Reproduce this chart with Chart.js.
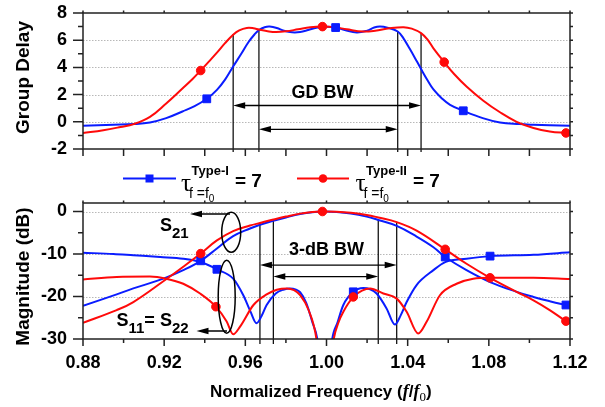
<!DOCTYPE html>
<html>
<head>
<meta charset="utf-8">
<script src="https://cdn.jsdelivr.net/npm/chart.js@4.4.1/dist/chart.umd.min.js"></script>
<style>
  html, body { margin: 0; padding: 0; background: #fff; }
  #wrap { position: relative; width: 605px; height: 407px; }
  #wrap canvas { position: absolute; left: 0; top: 0; }
</style>
</head>
<body>
<div id="wrap">
  <canvas id="gdChart" width="605" height="407"></canvas>
  <canvas id="magChart" width="605" height="407"></canvas>
</div>
<script>
// axis ticks
const freqTicks = [0.88, 0.92, 0.96, 1.00, 1.04, 1.08, 1.12];
const gdTicks = [-2, 0, 2, 4, 6, 8];
const magTicks = [-30, -20, -10, 0];

// group delay, Type-I (blue)
const gdFreqI = [0.880, 0.895, 0.905, 0.913, 0.921, 0.929, 0.935, 0.941, 0.946, 0.950, 0.954, 0.958, 0.9615, 0.9645, 0.9667, 0.9695, 0.972, 0.9755, 0.979, 0.983, 0.987, 0.991, 0.995, 1.000, 1.0045, 1.009, 1.0149, 1.020, 1.0235, 1.0264, 1.030, 1.0351, 1.038, 1.0411, 1.0445, 1.0466, 1.050, 1.0527, 1.057, 1.0609, 1.0674, 1.077, 1.0855, 1.095, 1.102, 1.110, 1.120];
const gdTypeI = [-0.29, -0.22, -0.17, -0.05, 0.27, 0.76, 1.15, 1.69, 2.35, 3.1, 4.07, 5.0, 5.85, 6.42, 6.74, 6.95, 7.0, 6.9, 6.7, 6.58, 6.6, 6.75, 6.92, 6.98, 6.93, 6.75, 6.57, 6.7, 6.93, 7.0, 6.92, 6.64, 6.12, 5.35, 4.45, 3.88, 3.0, 2.38, 1.7, 1.25, 0.81, 0.27, -0.05, -0.17, -0.22, -0.26, -0.29];
// group delay, Type-II (red)
const gdFreqII = [0.880, 0.890, 0.8985, 0.905, 0.913, 0.921, 0.929, 0.934, 0.938, 0.942, 0.946, 0.950, 0.954, 0.957, 0.9607, 0.964, 0.9667, 0.971, 0.975, 0.980, 0.986, 0.992, 0.998, 1.004, 1.010, 1.018, 1.024, 1.031, 1.038, 1.042, 1.0466, 1.050, 1.0527, 1.058, 1.063, 1.069, 1.0773, 1.0855, 1.0937, 1.102, 1.110, 1.118, 1.120];
const gdTypeII = [-0.83, -0.62, -0.38, -0.17, 0.36, 1.35, 2.45, 3.15, 3.77, 4.42, 5.08, 5.78, 6.4, 6.72, 6.9, 6.88, 6.78, 6.66, 6.6, 6.65, 6.8, 6.95, 7.0, 6.95, 6.8, 6.64, 6.7, 6.88, 6.96, 6.85, 6.52, 6.0, 5.4, 4.39, 3.5, 2.6, 1.55, 0.7, 0.0, -0.45, -0.71, -0.82, -0.83];
// marker points on the group delay curves
const gdMarkFreqI = [0.941, 1.0045, 1.0674];
const gdMarkI = [1.69, 6.93, 0.81];
const gdMarkFreqII = [0.938, 0.998, 1.058, 1.118];
const gdMarkII = [3.77, 7.0, 4.39, -0.82];
// GD bandwidth edges [freq, delay at edge]
const gdBwEdges = [[0.954, 6.45], [0.9667, 6.76], [1.0351, 6.64], [1.0466, 6.52]];

// S21, Type-I (blue)
const s21FreqI = [0.880, 0.8966, 0.9048, 0.9196, 0.9294, 0.938, 0.946, 0.954, 0.9623, 0.9672, 0.9738, 0.980, 0.987, 0.993, 0.998, 1.005, 1.012, 1.0198, 1.0255, 1.0346, 1.0444, 1.0527, 1.0585, 1.069, 1.0806, 1.0937, 1.102, 1.110, 1.118, 1.120];
const s21TypeI = [-22.2, -19.5, -18.1, -15.8, -13.8, -11.6, -8.7, -5.8, -4.0, -3.1, -2.2, -1.4, -0.6, -0.15, 0, -0.1, -0.45, -1.2, -2.0, -3.4, -5.9, -8.4, -10.7, -13.8, -16.6, -18.9, -20.1, -21.1, -22.0, -22.2];
// S21, Type-II (red)
const s21FreqII = [0.880, 0.8966, 0.9048, 0.9196, 0.9294, 0.938, 0.946, 0.954, 0.9623, 0.9672, 0.9738, 0.980, 0.987, 0.993, 0.998, 1.005, 1.012, 1.0198, 1.0255, 1.0346, 1.0444, 1.0585, 1.069, 1.0806, 1.0937, 1.102, 1.110, 1.118, 1.120];
const s21TypeII = [-26.2, -23.2, -21.3, -16.4, -13.0, -9.9, -6.8, -4.6, -3.3, -2.7, -1.9, -1.2, -0.5, -0.1, 0, -0.05, -0.3, -0.8, -1.4, -2.5, -4.5, -8.9, -12.3, -15.6, -18.9, -20.9, -23.2, -25.8, -26.2];
// S11 = S22, Type-I (blue)
const s11FreqI = [0.880, 0.895, 0.9048, 0.918, 0.9294, 0.938, 0.946, 0.954, 0.959, 0.9625, 0.9655, 0.968, 0.9705, 0.975, 0.9787, 0.982, 0.985, 0.987, 0.990, 0.993, 0.9958, 0.9992, 1.0025, 1.0055, 1.0083, 1.0132, 1.0181, 1.0215, 1.0247, 1.0296, 1.0337, 1.0365, 1.0395, 1.0444, 1.0527, 1.0585, 1.069, 1.0806, 1.102, 1.120];
const s11TypeI = [-9.7, -10.0, -10.3, -10.7, -11.1, -11.9, -13.6, -15.8, -19.7, -23.5, -26.3, -24.6, -22.0, -19.3, -18.4, -18.1, -18.4, -19.0, -21.5, -26.0, -31.0, -50, -31.0, -26.0, -22.0, -18.9, -18.0, -18.3, -19.3, -22.8, -26.6, -24.5, -21.3, -17.3, -13.8, -11.9, -11.1, -10.5, -10.2, -9.6];
// S11 = S22, Type-II (red)
const s11FreqII = [0.880, 0.8966, 0.913, 0.921, 0.9294, 0.9377, 0.9455, 0.9508, 0.954, 0.9574, 0.964, 0.9705, 0.9755, 0.9804, 0.984, 0.987, 0.991, 0.9952, 0.999, 1.0034, 1.006, 1.0083, 1.0132, 1.0175, 1.0215, 1.028, 1.0346, 1.0395, 1.0452, 1.0494, 1.0559, 1.0641, 1.0723, 1.0806, 1.102, 1.120];
const s11TypeII = [-16.0, -15.4, -15.3, -15.8, -17.0, -19.3, -22.4, -25.9, -28.9, -27.1, -22.0, -19.5, -18.4, -18.1, -18.5, -19.7, -23.0, -30.5, -50, -30.5, -26.0, -23.6, -20.1, -18.6, -18.1, -19.3, -20.5, -23.6, -28.7, -25.9, -19.7, -17.0, -15.8, -15.6, -15.6, -15.9];
// marker points on the magnitude curves
const magMarkFreqI = [0.938, 0.946, 1.0132, 1.0585, 1.0806, 1.118];
const magMarkI = [-11.6, -13.6, -18.9, -10.7, -10.5, -22.0];
const magMarkFreqII = [0.938, 0.9455, 0.998, 1.0132, 1.0585, 1.0806, 1.118];
const magMarkII = [-9.9, -22.4, 0, -20.1, -8.9, -15.6, -25.8];
// 3-dB bandwidth edges [freq, magnitude at edge]
const magBwEdges = [[0.9672, -2.7], [0.9738, -2.2], [1.0255, -2.0], [1.0346, -2.5]];

const BLUE = '#0a1cff';
const RED = '#ff0a0a';
const SANS = '"Liberation Sans", Arial, sans-serif';
const SERIF = '"Liberation Serif", "Times New Roman", serif';

Chart.defaults.font.family = SANS;
Chart.defaults.color = '#000';

const pts = (xs, ys) => xs.map((x, i) => ({ x: x, y: ys[i] }));
const mids = arr => arr.slice(1).map((v, i) => (v + arr[i]) / 2);

// smooth = bezier with tension, otherwise monotone (keeps the deep nulls clean)
function curve(xs, ys, color, smooth) {
    const ds = {
        data: pts(xs, ys),
        borderColor: color,
        borderWidth: 2,
        pointRadius: 0,
        fill: false
    };
    if (smooth) {
        ds.tension = 0.4;
    } else {
        ds.cubicInterpolationMode = 'monotone';
    }
    return ds;
}

function marks(xs, ys, color, style, r) {
    return {
        data: pts(xs, ys),
        showLine: false,
        pointStyle: style,
        pointRadius: r,
        pointBackgroundColor: color,
        pointBorderColor: color,
        pointBorderWidth: 1
    };
}

function xAxis(showLabels, height) {
    return {
        type: 'linear',
        min: 0.88,
        max: 1.12,
        afterBuildTicks: s => { s.ticks = freqTicks.map(v => ({ value: v })); },
        afterFit: s => { s.height = height; s.paddingLeft = 0; s.paddingRight = 0; },
        grid: { display: false, drawTicks: false },
        border: { display: false },
        ticks: {
            display: showLabels, padding: 13, maxRotation: 0, autoSkip: false,
            font: { size: 18, weight: 'bold' },
            callback: v => Number(v).toFixed(2)
        }
    };
}

function yAxis(min, max, ticks) {
    return {
        type: 'linear',
        min: min,
        max: max,
        afterBuildTicks: s => { s.ticks = ticks.map(v => ({ value: v })); },
        afterFit: s => { s.width = 83; s.paddingTop = 0; s.paddingBottom = 0; },
        grid: { display: false, drawTicks: false },
        border: { display: false },
        ticks: { padding: 16, font: { size: 18, weight: 'bold' }, callback: v => String(v) }
    };
}

function arrowHead(ctx, x, y, dir) {
    ctx.beginPath();
    ctx.moveTo(x, y);
    ctx.lineTo(x - dir * 12, y - 3.2);
    ctx.lineTo(x - dir * 12, y + 3.2);
    ctx.closePath();
    ctx.fill();
}

function bwArrow(ctx, x1, x2, y) {
    ctx.beginPath();
    ctx.moveTo(x1 + 6, y);
    ctx.lineTo(x2 - 6, y);
    ctx.stroke();
    arrowHead(ctx, x1, y, -1);
    arrowHead(ctx, x2, y, 1);
}

function leftArrow(ctx, x1, x2, y) {
    ctx.beginPath();
    ctx.moveTo(x1 + 6, y);
    ctx.lineTo(x2, y);
    ctx.stroke();
    arrowHead(ctx, x1, y, -1);
}

function vTitle(ctx, text, x, y) {
    ctx.save();
    ctx.translate(x, y);
    ctx.rotate(-Math.PI / 2);
    ctx.font = 'bold 19px ' + SANS;
    ctx.textAlign = 'center';
    ctx.textBaseline = 'middle';
    ctx.fillStyle = '#000';
    ctx.fillText(text, 0, 0);
    ctx.restore();
}

// frame, grid, ticks and bandwidth markers
const framePlugin = {
    id: 'frame',
    beforeDatasetsDraw(chart, args, o) {
        const { ctx, chartArea: a, scales: { x, y } } = chart;
        ctx.save();
        ctx.strokeStyle = '#b8b8b8';
        ctx.lineWidth = 1;
        ctx.setLineDash([1.5, 1.5]);
        o.yTicks.forEach(v => {
            if (v <= y.min || v >= y.max) return;
            const py = Math.round(y.getPixelForValue(v)) + 0.5;
            ctx.beginPath();
            ctx.moveTo(a.left, py);
            ctx.lineTo(a.right, py);
            ctx.stroke();
        });
        ctx.setLineDash([]);
        ctx.strokeStyle = '#000';
        ctx.lineWidth = 1.2;
        o.bwEdges.forEach(([f, v]) => {
            const px = x.getPixelForValue(f);
            ctx.beginPath();
            ctx.moveTo(px, y.getPixelForValue(v));
            ctx.lineTo(px, a.bottom + o.bwOver);
            ctx.stroke();
        });
        ctx.restore();
    },
    afterDatasetsDraw(chart, args, o) {
        const { ctx, chartArea: a, scales: { x, y } } = chart;
        ctx.save();
        ctx.strokeStyle = '#222';
        ctx.lineWidth = 1.5;
        ctx.strokeRect(a.left, a.top, a.right - a.left, a.bottom - a.top);
        ctx.beginPath();
        const xMinor = mids(freqTicks);
        const yMinor = mids(o.yTicks);
        freqTicks.forEach(v => {
            const px = x.getPixelForValue(v);
            ctx.moveTo(px, a.bottom); ctx.lineTo(px, a.bottom + o.xMajor);
            ctx.moveTo(px, a.top); ctx.lineTo(px, a.top - 2.5);
        });
        xMinor.forEach(v => {
            const px = x.getPixelForValue(v);
            ctx.moveTo(px, a.bottom); ctx.lineTo(px, a.bottom + o.xMinor);
            ctx.moveTo(px, a.top); ctx.lineTo(px, a.top - 2.5);
        });
        o.yTicks.forEach(v => {
            const py = y.getPixelForValue(v);
            ctx.moveTo(a.left, py); ctx.lineTo(a.left - 10, py);
            ctx.moveTo(a.right, py); ctx.lineTo(a.right + 3, py);
        });
        yMinor.forEach(v => {
            const py = y.getPixelForValue(v);
            ctx.moveTo(a.left, py); ctx.lineTo(a.left - 5, py);
            ctx.moveTo(a.right, py); ctx.lineTo(a.right + 3, py);
        });
        ctx.stroke();

        // bandwidth arrows
        ctx.strokeStyle = '#000';
        ctx.fillStyle = '#000';
        ctx.lineWidth = 1.3;
        const e = o.bwEdges.map(p => x.getPixelForValue(p[0]));
        bwArrow(ctx, e[0], e[3], y.getPixelForValue(o.outerArrowY));
        bwArrow(ctx, e[1], e[2], y.getPixelForValue(o.innerArrowY));
        ctx.font = 'bold 18px ' + SANS;
        ctx.textAlign = 'center';
        ctx.textBaseline = 'middle';
        ctx.fillText(o.bwLabel, x.getPixelForValue(o.bwLabelAt[0]), y.getPixelForValue(o.bwLabelAt[1]));

        vTitle(ctx, o.yTitle, o.yTitlePos[0], o.yTitlePos[1]);
        ctx.restore();
    }
};

// run of text pieces: [text, font, dy]
function sText(ctx, parts, x, y) {
    let cx = x;
    parts.forEach(([t, f, dy]) => {
        ctx.font = f;
        ctx.fillText(t, cx, y + dy);
        cx += ctx.measureText(t).width;
    });
    return cx;
}

// legend, S-parameter notes and x title for the magnitude panel
const notesPlugin = {
    id: 'notes',
    afterDraw(chart) {
        const ctx = chart.ctx;
        ctx.save();
        ctx.fillStyle = '#000';
        ctx.strokeStyle = '#000';
        ctx.textBaseline = 'alphabetic';
        ctx.textAlign = 'left';

        // legend
        const items = [
            { color: BLUE, x0: 123, x1: 176, mk: 'rect', tx: 181, sup: 'Type-I', eqx: 235 },
            { color: RED, x0: 297, x1: 349, mk: 'circle', tx: 355.5, sup: 'Type-II', eqx: 413 }
        ];
        const ly = 178.5;
        items.forEach(it => {
            ctx.strokeStyle = it.color;
            ctx.fillStyle = it.color;
            ctx.lineWidth = 2;
            ctx.beginPath();
            ctx.moveTo(it.x0, ly);
            ctx.lineTo(it.x1, ly);
            ctx.stroke();
            const mx = (it.x0 + it.x1) / 2;
            if (it.mk === 'rect') {
                ctx.fillRect(mx - 4, ly - 4, 8, 8);
            } else {
                ctx.beginPath();
                ctx.arc(mx, ly, 4.3, 0, Math.PI * 2);
                ctx.fill();
            }
            ctx.fillStyle = '#000';
            ctx.font = '25px ' + SERIF;
            ctx.fillText('\u03c4', it.tx, 191);
            ctx.font = 'bold 13px ' + SANS;
            ctx.fillText(it.sup, it.tx + 10.5, 175);
            sText(ctx, [['f =f', '14px ' + SANS, 0], ['0', '10px ' + SANS, 4]], it.tx + 8, 198);
            ctx.font = 'bold 19px ' + SANS;
            ctx.fillText('= 7', it.eqx, 187);
        });

        // S21 note
        ctx.lineWidth = 1.5;
        ctx.strokeStyle = '#000';
        ctx.fillStyle = '#000';
        ctx.beginPath();
        ctx.ellipse(231.2, 232.3, 9.5, 20, 0, 0, Math.PI * 2);
        ctx.stroke();
        leftArrow(ctx, 190, 230, 214);
        sText(ctx, [['S', 'bold 18px ' + SANS, 0], ['21', 'bold 15px ' + SANS, 7]], 160, 231);

        // S11 = S22 note
        ctx.beginPath();
        ctx.ellipse(226.7, 296.7, 8.5, 36.5, 0, 0, Math.PI * 2);
        ctx.stroke();
        leftArrow(ctx, 196.5, 227, 331);
        sText(ctx, [
            ['S', 'bold 18px ' + SANS, 0], ['11', 'bold 15px ' + SANS, 7],
            ['= ', 'bold 18px ' + SANS, 0],
            ['S', 'bold 18px ' + SANS, 0], ['22', 'bold 15px ' + SANS, 7]
        ], 116.5, 326);

        // x title
        sText(ctx, [
            ['Normalized Frequency (', 'bold 17px ' + SANS, 0],
            ['f', 'italic bold 18px ' + SERIF, 0],
            ['/', 'bold 17px ' + SANS, 0],
            ['f', 'italic bold 18px ' + SERIF, 0],
            ['0', '13px ' + SERIF, 4],
            [')', 'bold 17px ' + SANS, 0]
        ], 210, 397);
        ctx.restore();
    }
};

const baseOptions = {
    responsive: false,
    animation: false,
    events: [],
    plugins: { legend: { display: false }, tooltip: { enabled: false } }
};

new Chart(document.getElementById('gdChart'), {
    type: 'line',
    data: {
        datasets: [
            marks(gdMarkFreqII, gdMarkII, RED, 'circle', 4.3),
            marks(gdMarkFreqI, gdMarkI, BLUE, 'rect', 5.5),
            curve(gdFreqII, gdTypeII, RED, true),
            curve(gdFreqI, gdTypeI, BLUE, true)
        ]
    },
    options: {
        ...baseOptions,
        layout: { padding: { top: 13, right: 35, left: 0, bottom: 0 } },
        scales: { x: xAxis(false, 407 - 149), y: yAxis(-2, 8, gdTicks) },
        plugins: {
            ...baseOptions.plugins,
            frame: {
                yTicks: gdTicks, xMajor: 7, xMinor: 7, bwOver: 3,
                bwEdges: gdBwEdges, outerArrowY: 1.2, innerArrowY: -0.55,
                bwLabel: 'GD BW', bwLabelAt: [0.998, 2.1],
                yTitle: 'Group Delay', yTitlePos: [24, 77.5]
            }
        }
    },
    plugins: [framePlugin]
});

new Chart(document.getElementById('magChart'), {
    type: 'line',
    data: {
        datasets: [
            marks(magMarkFreqII, magMarkII, RED, 'circle', 4.3),
            marks(magMarkFreqI, magMarkI, BLUE, 'rect', 5.5),
            curve(s21FreqII, s21TypeII, RED, true),
            curve(s11FreqII, s11TypeII, RED, false),
            curve(s21FreqI, s21TypeI, BLUE, true),
            curve(s11FreqI, s11TypeI, BLUE, false)
        ]
    },
    options: {
        ...baseOptions,
        layout: { padding: { top: 203, right: 35, left: 0, bottom: 0 } },
        scales: { x: xAxis(true, 407 - 339), y: yAxis(-30, 2, magTicks) },
        plugins: {
            ...baseOptions.plugins,
            frame: {
                yTicks: magTicks, xMajor: 7, xMinor: 4, bwOver: 5,
                bwEdges: magBwEdges, outerArrowY: -12.6, innerArrowY: -15.3,
                bwLabel: '3-dB BW', bwLabelAt: [1.0, -9.1],
                yTitle: 'Magnitude (dB)', yTitlePos: [24, 276.5]
            }
        }
    },
    plugins: [framePlugin, notesPlugin]
});
</script>
</body>
</html>
